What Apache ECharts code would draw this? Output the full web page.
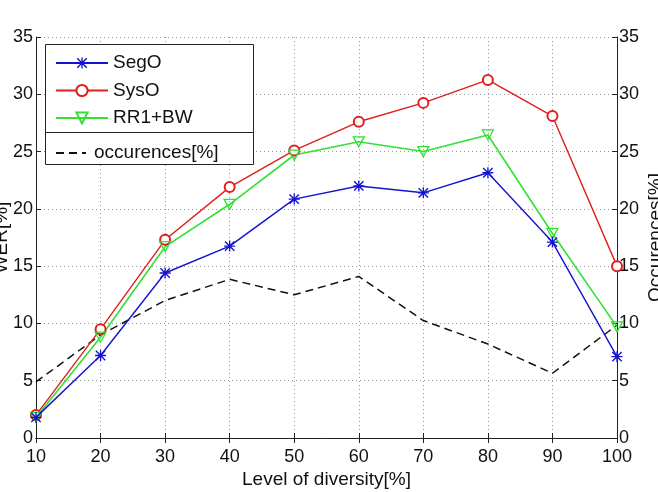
<!DOCTYPE html>
<html>
<head>
<meta charset="utf-8">
<script src="https://cdn.jsdelivr.net/npm/echarts@6/dist/echarts.min.js"></script>
<style>
html,body{margin:0;padding:0;background:#fff;}
#c{width:658px;height:492px;}
</style>
</head>
<body>
<div id="c"></div>
<script>
var diversity = [10, 20, 30, 40, 50, 60, 70, 80, 90, 100];
var segO = [1.8, 7.2, 14.4, 16.75, 20.85, 22.0, 21.4, 23.15, 17.1, 7.1];
var sysO = [2.0, 9.5, 17.3, 21.9, 25.1, 27.6, 29.25, 31.25, 28.1, 15.0];
var rr1bw = [1.8, 8.8, 16.7, 20.4, 24.7, 25.85, 25.0, 26.45, 17.85, 9.7];
var occurences = [4.9, 9.0, 12.0, 13.85, 12.5, 14.1, 10.25, 8.2, 5.65, 9.85];
var yTicks = [0, 5, 10, 15, 20, 25, 30, 35];

function pairs(vals) { return diversity.map(function (x, i) { return [x, vals[i]]; }); }

var FONT = 'Liberation Sans, Arial, Helvetica, sans-serif';
var BLUE = '#1414d0', RED = '#e01e1e', GREEN = '#33e033';
var asterisk = 'path://M0 8.8L20 8.8L20 11.2L0 11.2Z M8.8 0L11.2 0L11.2 20L8.8 20Z M2.4 0.6L19.4 17.6L17.6 19.4L0.6 2.4Z M17.6 0.6L19.4 2.4L2.4 19.4L0.6 17.6Z';
var downTri = 'path://M0 0L20 0L10 17Z';

var axisLineStyle = { color: '#222', width: 1 };
var tickStyle = { show: true, inside: true, length: 5, lineStyle: { color: '#222', width: 1 } };
var splitStyle = { show: true, lineStyle: { color: '#999', width: 1, type: [1, 3] } };

var chart = echarts.init(document.getElementById('c'), null, { renderer: 'canvas' });
chart.setOption({
  animation: false,
  backgroundColor: '#fff',
  textStyle: { fontFamily: FONT },
  grid: { left: 36, right: 41, top: 37, bottom: 54, containLabel: false, outerBoundsMode: 'none' },
  xAxis: [{
    type: 'value', min: 10, max: 100, interval: 10, position: 'bottom',
    name: 'Level of diversity[%]', nameLocation: 'middle', nameGap: 32, nameMoveOverlap: false,
    nameTextStyle: { fontSize: 19, color: '#111', fontFamily: FONT },
    axisLine: { show: true, lineStyle: axisLineStyle },
    axisTick: tickStyle,
    axisLabel: { fontSize: 18, color: '#111', margin: 10, fontFamily: FONT },
    splitLine: splitStyle
  }, {
    type: 'value', min: 10, max: 100, interval: 10, position: 'top',
    axisLine: { show: true, lineStyle: axisLineStyle },
    axisTick: tickStyle,
    axisLabel: { show: false },
    splitLine: { show: false }
  }],
  yAxis: [{
    type: 'value', min: 0, max: 35, interval: 5, position: 'left',
    name: 'WER[%]', nameLocation: 'middle', nameGap: 25, nameRotate: 90, nameMoveOverlap: false,
    nameTextStyle: { fontSize: 19, color: '#111', fontFamily: FONT },
    axisLine: { show: true, lineStyle: axisLineStyle },
    axisTick: tickStyle,
    axisLabel: { fontSize: 18, color: '#111', margin: 3, fontFamily: FONT,
      formatter: function (v) { return yTicks.indexOf(v) >= 0 ? String(v) : ''; } },
    splitLine: splitStyle
  }, {
    type: 'value', min: 0, max: 35, interval: 5, position: 'right',
    name: 'Occurences[%]', nameLocation: 'middle', nameGap: 29, nameRotate: 90, nameMoveOverlap: false,
    nameTextStyle: { fontSize: 19, color: '#111', fontFamily: FONT },
    axisLine: { show: true, lineStyle: axisLineStyle },
    axisTick: tickStyle,
    axisLabel: { fontSize: 18, color: '#111', margin: 2, fontFamily: FONT,
      formatter: function (v) { return yTicks.indexOf(v) >= 0 ? String(v) : ''; } },
    splitLine: { show: false }
  }],
  graphic: [{
    type: 'rect', z: 3, silent: true,
    shape: { x: 45.5, y: 44.5, width: 208, height: 120 },
    style: { fill: '#fff', stroke: '#222', lineWidth: 1 }
  }, {
    type: 'line', z: 3, silent: true,
    shape: { x1: 45.5, y1: 132.5, x2: 253.5, y2: 132.5 },
    style: { stroke: '#222', lineWidth: 1 }
  }],
  legend: [{
    data: ['SegO', 'SysO', 'RR1+BW'],
    orient: 'vertical', left: 55, top: 53, padding: 0, z: 4,
    itemWidth: 52, itemHeight: 14, itemGap: 7.5,
    textStyle: { fontSize: 19, color: '#111', lineHeight: 20, fontFamily: FONT }
  }, {
    data: [{ name: 'occurences[%]', itemStyle: { opacity: 0 } }],
    orient: 'vertical', left: 55, top: 143, padding: 0, z: 4,
    itemWidth: 30, itemHeight: 14,
    textStyle: { fontSize: 19, color: '#111', lineHeight: 20, fontFamily: FONT, padding: [0, 0, 0, 3] }
  }],
  series: [{
    name: 'SegO', type: 'line', data: pairs(segO), z: 4,
    symbol: asterisk, symbolSize: 11,
    itemStyle: { color: BLUE },
    lineStyle: { color: BLUE, width: 1.4 }
  }, {
    name: 'SysO', type: 'line', data: pairs(sysO), z: 3,
    symbol: 'emptyCircle', symbolSize: 10,
    itemStyle: { color: RED, borderColor: RED, borderWidth: 1.2 },
    lineStyle: { color: RED, width: 1.4 }
  }, {
    name: 'RR1+BW', type: 'line', data: pairs(rr1bw), z: 3,
    symbol: downTri, symbolSize: [11, 10],
    itemStyle: { color: 'rgba(0,0,0,0)', borderColor: GREEN, borderWidth: 1.3 },
    lineStyle: { color: GREEN, width: 1.6 }
  }, {
    name: 'occurences[%]', type: 'line', data: pairs(occurences), yAxisIndex: 1, z: 2,
    symbol: 'none',
    itemStyle: { color: '#111' },
    lineStyle: { color: '#111', width: 1.5, type: [8, 5] }
  }]
});
</script>
</body>
</html>
